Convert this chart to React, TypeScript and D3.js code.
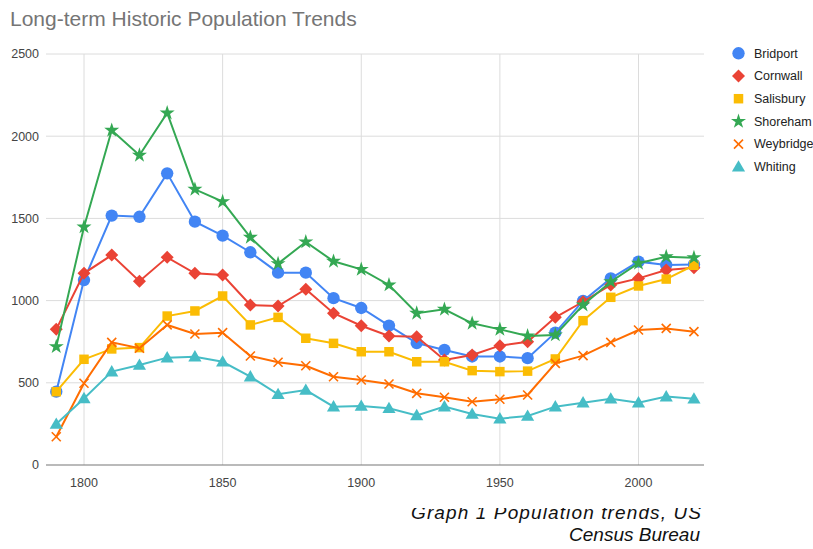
import React from "react";
import * as d3 from "d3";

const years = [1790,1800,1810,1820,1830,1840,1850,1860,1870,1880,1890,1900,1910,1920,1930,1940,1950,1960,1970,1980,1990,2000,2010,2020];
const bridport = [446,1125,1517,1510,1774,1480,1395,1294,1170,1170,1015,955,848,742,700,660,660,650,805,998,1135,1237,1217,1220];
const cornwall = [825,1166,1277,1118,1263,1166,1156,973,967,1069,923,847,785,780,639,669,726,750,898,993,1095,1135,1186,1200];
const salisbury = [446,643,706,714,906,937,1028,852,898,771,740,689,689,628,628,574,568,571,645,878,1020,1089,1131,1215];
const shoreham = [720,1448,2036,1884,2141,1677,1602,1385,1225,1357,1239,1190,1095,923,947,862,825,785,791,973,1115,1227,1267,1261];
const weybridge = [172,497,746,710,852,797,805,663,625,604,537,517,493,436,412,385,400,426,618,665,746,821,831,811];
const whiting = [249,405,568,608,653,659,628,537,430,456,355,359,345,302,355,310,282,298,355,379,403,379,416,403];

const seriesNames = ["Bridport","Cornwall","Salisbury","Shoreham","Weybridge","Whiting"];
const seriesValues = [bridport, cornwall, salisbury, shoreham, weybridge, whiting];
const seriesColors = ["#4285F4","#EA4335","#FBBC04","#34A853","#FF6D01","#46BDC6"];
const seriesShapes = ["circle","diamond","square","star","cross","triangle"];

const yTicks = [0,500,1000,1500,2000,2500];
const xTicks = [1800,1850,1900,1950,2000];

const title = "Long-term Historic Population Trends";
const captionLines = ["Graph 1 Population trends, US", "Census Bureau"];

const FONT = "Arial, 'Liberation Sans', sans-serif";

function markerPath(shape: string): string {
  switch (shape) {
    case "circle": return d3.symbol(d3.symbolCircle, 120)() as string;
    case "diamond": {
      const r = 6.5;
      return `M0,${-r}L${r},0L0,${r}L${-r},0Z`;
    }
    case "square": return d3.symbol(d3.symbolSquare, 90)() as string;
    case "star": return d3.symbol(d3.symbolStar, 70)() as string;
    case "triangle": return d3.symbol(d3.symbolTriangle, 75)() as string;
    default: return "";
  }
}

function Marker({ shape, color, x, y }: { shape: string; color: string; x: number; y: number }) {
  if (shape === "cross") {
    const r = 4.5;
    return (
      <g transform={`translate(${x},${y})`} stroke={color} strokeWidth={1.6}>
        <line x1={-r} y1={-r} x2={r} y2={r} />
        <line x1={-r} y1={r} x2={r} y2={-r} />
      </g>
    );
  }
  const dy = shape === "triangle" ? 1 : 0;
  return <path transform={`translate(${x},${y + dy})`} d={markerPath(shape)} fill={color} />;
}

export default function App() {
  const W = 813, H = 549;
  const x = d3.scaleLinear().domain([1800, 2000]).range([84, 638.5]);
  const y = d3.scaleLinear().domain([0, 2500]).range([465, 54]);
  const plotLeft = 46, plotRight = 704;
  const line = d3.line<number>().x((_, i) => x(years[i])).y((v) => y(v));

  return (
    <svg width={W} height={H} style={{ position: "absolute", left: 0, top: 0, background: "#fff" }} fontFamily={FONT}>
      <defs>
        <clipPath id="capclip">
          <rect x={0} y={508} width={W} height={H - 508} />
        </clipPath>
      </defs>
      <text x={10} y={26} fontSize={21} fill="#757575">{title}</text>

      {yTicks.map((t) => (
        <g key={t}>
          {t !== 0 && <line x1={plotLeft} x2={plotRight} y1={y(t)} y2={y(t)} stroke="#dcdcdc" strokeWidth={1} />}
          <text x={39} y={y(t)} dy="0.35em" textAnchor="end" fontSize={12.5} fill="#444">{t}</text>
        </g>
      ))}
      {xTicks.map((t) => (
        <g key={t}>
          <line x1={x(t)} x2={x(t)} y1={y(2500)} y2={y(0)} stroke="#dcdcdc" strokeWidth={1} />
          <text x={x(t)} y={487} textAnchor="middle" fontSize={12.5} fill="#444">{t}</text>
        </g>
      ))}
      <line x1={plotLeft} x2={plotRight} y1={y(0)} y2={y(0)} stroke="#777" strokeWidth={1.2} />

      {seriesValues.map((vals, si) => (
        <g key={seriesNames[si]}>
          <path d={line(vals) as string} fill="none" stroke={seriesColors[si]} strokeWidth={2} />
          {vals.map((v, i) => (
            <Marker key={i} shape={seriesShapes[si]} color={seriesColors[si]} x={x(years[i])} y={y(v)} />
          ))}
        </g>
      ))}

      {seriesNames.map((name, i) => {
        const ly = 53.3 + i * 22.7;
        return (
          <g key={name}>
            <Marker shape={seriesShapes[i]} color={seriesColors[i]} x={738.5} y={ly} />
            <text x={754} y={ly} dy="0.35em" fontSize={12.5} fill="#222">{name}</text>
          </g>
        );
      })}

      <g clipPath="url(#capclip)">
        <text x={411} y={519} textLength={290} lengthAdjust="spacing" fontSize={19} fontStyle="italic" fill="#111">{captionLines[0]}</text>
        <text x={700} y={541} textAnchor="end" fontSize={19} fontStyle="italic" fill="#111">{captionLines[1]}</text>
      </g>
    </svg>
  );
}
